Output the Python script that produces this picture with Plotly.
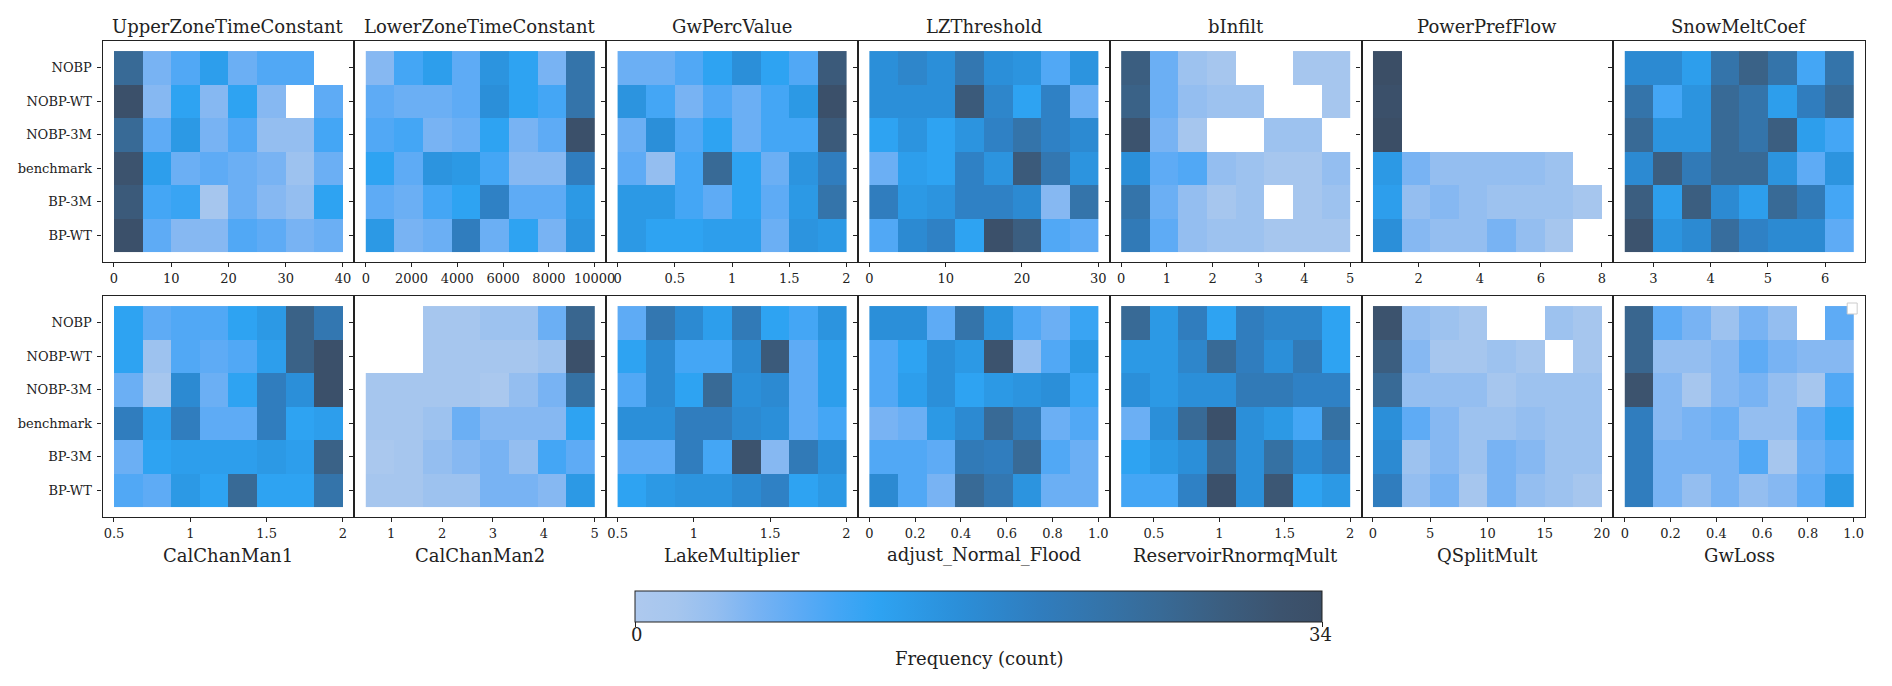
import numpy as np
import plotly.graph_objects as go

W, H = 1892, 686

# ---------------- data ----------------
row_labels = ["NOBP", "NOBP-WT", "NOBP-3M", "benchmark", "BP-3M", "BP-WT"]

params_top = ["UpperZoneTimeConstant", "LowerZoneTimeConstant", "GwPercValue",
              "LZThreshold", "bInfilt", "PowerPrefFlow", "SnowMeltCoef"]
params_bottom = ["CalChanMan1", "CalChanMan2", "LakeMultiplier",
                 "adjust_Normal_Flood", "ReservoirRnormqMult", "QSplitMult", "GwLoss"]

param_ranges = {
    "UpperZoneTimeConstant": (0, 40),
    "LowerZoneTimeConstant": (0, 10000),
    "GwPercValue": (0, 2),
    "LZThreshold": (0, 30),
    "bInfilt": (0, 5),
    "PowerPrefFlow": (0.5, 8),
    "SnowMeltCoef": (2.5, 6.5),
    "CalChanMan1": (0.5, 2),
    "CalChanMan2": (0.5, 5),
    "LakeMultiplier": (0.5, 2),
    "adjust_Normal_Flood": (0, 1),
    "ReservoirRnormqMult": (0.25, 2),
    "QSplitMult": (0, 20),
    "GwLoss": (0, 1),
}

tick_values = {
    "UpperZoneTimeConstant": [0, 10, 20, 30, 40],
    "LowerZoneTimeConstant": [0, 2000, 4000, 6000, 8000, 10000],
    "GwPercValue": [0, 0.5, 1, 1.5, 2],
    "LZThreshold": [0, 10, 20, 30],
    "bInfilt": [0, 1, 2, 3, 4, 5],
    "PowerPrefFlow": [2, 4, 6, 8],
    "SnowMeltCoef": [3, 4, 5, 6],
    "CalChanMan1": [0.5, 1, 1.5, 2],
    "CalChanMan2": [1, 2, 3, 4, 5],
    "LakeMultiplier": [0.5, 1, 1.5, 2],
    "adjust_Normal_Flood": [0, 0.2, 0.4, 0.6, 0.8, 1.0],
    "ReservoirRnormqMult": [0.5, 1, 1.5, 2],
    "QSplitMult": [0, 5, 10, 15, 20],
    "GwLoss": [0, 0.2, 0.4, 0.6, 0.8, 1.0],
}
tick_labels = {
    "UpperZoneTimeConstant": ["0", "10", "20", "30", "40"],
    "LowerZoneTimeConstant": ["0", "2000", "4000", "6000", "8000", "10000"],
    "GwPercValue": ["0", "0.5", "1", "1.5", "2"],
    "LZThreshold": ["0", "10", "20", "30"],
    "bInfilt": ["0", "1", "2", "3", "4", "5"],
    "PowerPrefFlow": ["2", "4", "6", "8"],
    "SnowMeltCoef": ["3", "4", "5", "6"],
    "CalChanMan1": ["0.5", "1", "1.5", "2"],
    "CalChanMan2": ["1", "2", "3", "4", "5"],
    "LakeMultiplier": ["0.5", "1", "1.5", "2"],
    "adjust_Normal_Flood": ["0", "0.2", "0.4", "0.6", "0.8", "1.0"],
    "ReservoirRnormqMult": ["0.5", "1", "1.5", "2"],
    "QSplitMult": ["0", "5", "10", "15", "20"],
    "GwLoss": ["0", "0.2", "0.4", "0.6", "0.8", "1.0"],
}

N = None
upper_zone = [[26, 6, 9, 13, 7, 9, 9, N],
              [33, 5, 12, 5, 12, 5, N, 8],
              [26, 8, 14, 6, 9, 4, 4, 10],
              [32, 13, 7, 8, 7, 6, 3, 7],
              [30, 10, 11, 2, 7, 5, 4, 12],
              [33, 8, 5, 5, 9, 8, 6, 7]]
lower_zone = [[5, 10, 13, 8, 15, 12, 6, 23],
              [8, 7, 7, 8, 16, 12, 10, 23],
              [9, 10, 6, 7, 12, 6, 8, 33],
              [12, 8, 15, 14, 10, 5, 5, 20],
              [8, 7, 10, 12, 19, 8, 8, 14],
              [14, 6, 7, 20, 7, 12, 6, 15]]
gw_perc = [[7, 7, 9, 12, 16, 12, 9, 30],
           [15, 10, 6, 9, 7, 10, 14, 33],
           [7, 16, 9, 12, 7, 10, 10, 30],
           [8, 4, 10, 26, 12, 7, 15, 20],
           [14, 14, 10, 8, 12, 8, 14, 23],
           [14, 12, 12, 13, 13, 7, 15, 14]]
lz_threshold = [[16, 18, 16, 22, 16, 15, 9, 15],
                [16, 16, 16, 30, 18, 12, 19, 7],
                [12, 15, 12, 15, 19, 23, 19, 17],
                [7, 13, 12, 19, 15, 30, 22, 15],
                [20, 14, 15, 19, 19, 17, 5, 23],
                [9, 17, 19, 12, 33, 29, 9, 8]]
b_infilt = [[29, 7, 3, 2, N, N, 2, 2],
            [28, 7, 4, 3, 3, N, N, 2],
            [32, 6, 2, N, N, 3, 3, N],
            [16, 8, 9, 4, 3, 2, 2, 4],
            [23, 7, 4, 2, 3, N, 2, 3],
            [21, 8, 4, 3, 3, 2, 2, 2]]
power_pref = [[34, N, N, N, N, N, N, N],
              [33, N, N, N, N, N, N, N],
              [34, N, N, N, N, N, N, N],
              [14, 6, 4, 4, 4, 4, 3, N],
              [13, 4, 5, 4, 3, 3, 3, 2],
              [16, 5, 4, 4, 6, 4, 2, N]]
snow_melt = [[17, 17, 13, 23, 28, 23, 10, 23],
             [23, 10, 15, 26, 23, 13, 20, 26],
             [26, 15, 15, 26, 23, 29, 13, 10],
             [17, 29, 21, 26, 26, 15, 8, 15],
             [29, 13, 29, 17, 13, 26, 21, 10],
             [32, 15, 17, 25, 19, 17, 17, 8]]
cal_chan1 = [[12, 8, 9, 9, 12, 14, 28, 22],
             [12, 3, 9, 8, 9, 13, 28, 33],
             [7, 2, 17, 7, 12, 20, 16, 33],
             [20, 13, 20, 8, 8, 20, 12, 13],
             [7, 12, 13, 13, 13, 14, 13, 28],
             [9, 8, 14, 12, 26, 12, 12, 23]]
cal_chan2 = [[N, N, 2, 2, 3, 3, 7, 27],
             [N, N, 2, 2, 2, 2, 3, 33],
             [2, 2, 2, 2, 1, 4, 6, 24],
             [2, 2, 3, 7, 5, 5, 5, 12],
             [1, 2, 4, 5, 6, 4, 10, 8],
             [2, 2, 3, 3, 6, 6, 5, 14]]
lake_mult = [[8, 22, 17, 13, 21, 12, 10, 15],
             [12, 17, 10, 10, 17, 30, 8, 13],
             [9, 17, 12, 26, 16, 17, 8, 13],
             [16, 16, 20, 20, 17, 16, 8, 10],
             [8, 8, 20, 10, 32, 5, 21, 16],
             [12, 14, 15, 15, 17, 19, 12, 14]]
adjust_flood = [[16, 16, 8, 23, 15, 9, 7, 11],
                [9, 12, 16, 14, 32, 4, 9, 14],
                [9, 13, 16, 12, 14, 15, 16, 11],
                [6, 7, 14, 17, 26, 21, 7, 9],
                [9, 9, 8, 21, 20, 26, 9, 7],
                [17, 9, 6, 26, 22, 15, 7, 7]]
reservoir = [[26, 14, 20, 12, 20, 18, 18, 12],
             [14, 14, 18, 26, 20, 16, 21, 12],
             [16, 14, 16, 16, 21, 21, 19, 19],
             [7, 16, 26, 33, 16, 14, 10, 24],
             [12, 14, 16, 26, 16, 24, 17, 20],
             [10, 10, 19, 33, 16, 31, 12, 14]]
qsplit = [[32, 4, 3, 2, N, N, 3, 2],
          [29, 5, 2, 2, 3, 2, N, 2],
          [26, 4, 4, 4, 2, 3, 3, 3],
          [16, 8, 5, 3, 3, 4, 3, 3],
          [17, 3, 5, 3, 6, 5, 3, 3],
          [20, 4, 6, 2, 6, 4, 3, 2]]
gw_loss = [[27, 8, 6, 3, 6, 4, N, 8],
           [27, 4, 4, 5, 8, 6, 5, 5],
           [32, 5, 2, 5, 6, 4, 2, 9],
           [20, 5, 6, 7, 4, 4, 8, 12],
           [20, 6, 6, 6, 9, 2, 7, 9],
           [20, 6, 4, 6, 4, 5, 8, 14]]

counts = {
    "UpperZoneTimeConstant": upper_zone,
    "LowerZoneTimeConstant": lower_zone,
    "GwPercValue": gw_perc,
    "LZThreshold": lz_threshold,
    "bInfilt": b_infilt,
    "PowerPrefFlow": power_pref,
    "SnowMeltCoef": snow_melt,
    "CalChanMan1": cal_chan1,
    "CalChanMan2": cal_chan2,
    "LakeMultiplier": lake_mult,
    "adjust_Normal_Flood": adjust_flood,
    "ReservoirRnormqMult": reservoir,
    "QSplitMult": qsplit,
    "GwLoss": gw_loss,
}
count_max = 34
colorbar_ticks = [0, count_max]
colorbar_title = "Frequency (count)"

# ---------------- style / layout ----------------
FONT = "DejaVu Serif"
INK = "#222222"
colorscale = [
    [0.0, "#aec9ee"], [0.06, "#a6c6ee"], [0.118, "#94bef0"], [0.176, "#78b3f3"],
    [0.235, "#5eabf5"], [0.294, "#44a6f5"], [0.353, "#2ea3f2"], [0.47, "#2b8fd9"],
    [0.588, "#307dbe"], [0.676, "#3474aa"], [0.765, "#386a96"], [0.853, "#3b5e80"],
    [0.94, "#3c536e"], [1.0, "#3b4e66"],
]

# page offset of the plot inside the browser page (default body margin)
OFF = 8


def fx(px):
    return (px - OFF) / W


def fy(py):
    return 1 - (py - OFF) / H


grid_left, panel_w = 103, 253
col_edges_px = [grid_left + i * panel_w for i in range(8)]
row_px = [(41, 262), (296, 517)]

cb_left, cb_right = 640, 1327
cb_top, cb_thick = 591, 31

fig = go.Figure()
layout = {}
annotations = []

for r, plist in enumerate([params_top, params_bottom]):
    for c, name in enumerate(plist):
        k = r * 7 + c + 1
        sfx = "" if k == 1 else str(k)
        z = np.array([[np.nan if v is None else v for v in row] for row in counts[name]], dtype=float)
        lo, hi = param_ranges[name]
        nb = z.shape[1]
        xedges = np.linspace(lo, hi, nb + 1)
        yedges = np.arange(len(row_labels) + 1) - 0.5
        fig.add_trace(go.Heatmap(
            z=z, x=xedges, y=yedges, coloraxis="coloraxis",
            xaxis="x" + sfx, yaxis="y" + sfx, hoverongaps=False,
        ))
        span = hi - lo
        x0, x1 = col_edges_px[c], col_edges_px[c + 1]
        y0, y1 = row_px[r]
        common = dict(showline=True, mirror=True, linecolor=INK, linewidth=1.2,
                      showgrid=False, zeroline=False, ticks="outside", ticklen=4,
                      tickwidth=1, tickcolor=INK,
                      tickfont=dict(family=FONT, size=13, color=INK))
        layout["xaxis" + sfx] = dict(
            domain=[fx(x0), fx(x1)], anchor="y" + sfx,
            range=[lo - 0.05 * span, hi + 0.05 * span],
            tickvals=tick_values[name], ticktext=tick_labels[name], **common)
        layout["yaxis" + sfx] = dict(
            domain=[fy(y1), fy(y0)], anchor="x" + sfx,
            range=[len(row_labels) - 0.5 + 0.3, -0.5 - 0.3],
            tickvals=list(range(len(row_labels))), ticktext=row_labels,
            showticklabels=(c == 0), ticklabelstandoff=3, **common)
        label_y = 26 if r == 0 else 555
        annotations.append(dict(
            text=name, xref="paper", yref="paper", x=fx((x0 + x1) / 2),
            y=fy(label_y), xanchor="center", yanchor="middle", showarrow=False,
            font=dict(family=FONT, size=18, color=INK)))

# colorbar labels
cb_bottom = cb_top + cb_thick
for v in colorbar_ticks:
    xpx = cb_left + (cb_right - cb_left) * v / count_max
    annotations.append(dict(
        text=str(v), xref="paper", yref="paper", x=fx(xpx), y=fy(cb_bottom + 12),
        xanchor="center", yanchor="middle", showarrow=False,
        font=dict(family=FONT, size=18, color=INK)))
annotations.append(dict(
    text=colorbar_title, xref="paper", yref="paper", x=fx((cb_left + cb_right) / 2),
    y=fy(cb_bottom + 36), xanchor="center", yanchor="middle", showarrow=False,
    font=dict(family=FONT, size=18, color=INK)))

fig.update_layout(
    width=W, height=H,
    margin=dict(l=0, r=0, t=0, b=0),
    paper_bgcolor="white", plot_bgcolor="white",
    font=dict(family=FONT, color=INK),
    showlegend=False,
    annotations=annotations,
    coloraxis=dict(
        cmin=0, cmax=count_max, colorscale=colorscale,
        colorbar=dict(
            orientation="h", x=fx((cb_left + cb_right) / 2), xanchor="center",
            y=fy(cb_top), yanchor="top", len=cb_right - cb_left, lenmode="pixels",
            thickness=cb_thick, xpad=0, ypad=0,
            tickvals=colorbar_ticks, showticklabels=False,
            ticks="outside", ticklen=5, tickcolor=INK,
            outlinewidth=1, outlinecolor=INK,
        ),
    ),
    shapes=[dict(type="rect", xref="paper", yref="paper",
                 x0=fx(1856), x1=fx(1866), y0=fy(314), y1=fy(303),
                 line=dict(color="#cccccc", width=1), fillcolor="white")],
    **layout,
)

fig.write_html("out.html")
